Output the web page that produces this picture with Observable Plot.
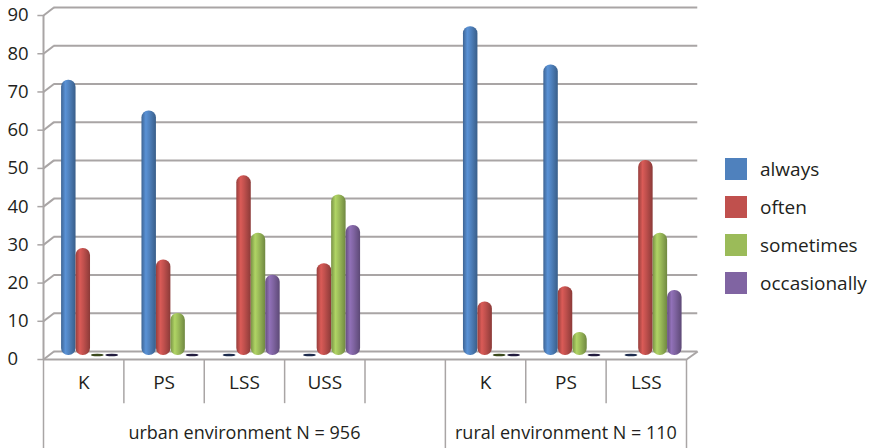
<!DOCTYPE html>
<html>
<head>
<meta charset="utf-8">
<script src="https://cdn.jsdelivr.net/npm/d3@7"></script>
<script src="https://cdn.jsdelivr.net/npm/@observablehq/plot@0.6"></script>
<style>
  body { margin: 0; background: #fff; }
  #wrap { position: relative; width: 875px; height: 448px; font-family: "Open Sans", sans-serif; color: #231f20; }
  #legend { position: absolute; left: 725px; top: 158px; }
  .item { display: flex; align-items: center; height: 38px; font-size: 19px; position: relative; top: -8px; }
  .sw { width: 22px; height: 22px; margin-right: 13px; }
</style>
</head>
<body>
<div id="wrap"><div id="legend"></div></div>
<script>
// ---- data ----
const series = ["always", "often", "sometimes", "occasionally"];
const seriesColors = ["#4f81bd", "#c0504d", "#9bbb59", "#8064a2"];
const urbanCategories = ["K", "PS", "LSS", "USS"];
const ruralCategories = ["K", "PS", "LSS"];
const urbanAlways       = [72, 64, 0, 0];
const urbanOften        = [28, 25, 47, 24];
const urbanSometimes    = [0, 11, 32, 42];
const urbanOccasionally = [0, 0, 21, 34];
const ruralAlways       = [86, 76, 0];
const ruralOften        = [14, 18, 51];
const ruralSometimes    = [0, 6, 32];
const ruralOccasionally = [0, 0, 17];
const groupLabels = ["urban environment N = 956", "rural environment N = 110"];
const yTicks = [0, 10, 20, 30, 40, 50, 60, 70, 80, 90];

// ---- build table ----
const urbanVals = [urbanAlways, urbanOften, urbanSometimes, urbanOccasionally];
const ruralVals = [ruralAlways, ruralOften, ruralSometimes, ruralOccasionally];
const rows = [];
const cats = [];
urbanCategories.forEach((c, i) => {
  cats.push({cat: c, slot: i});
  series.forEach((s, j) => rows.push({slot: i, cat: c, series: s, j, value: urbanVals[j][i]}));
});
ruralCategories.forEach((c, i) => {
  cats.push({cat: c, slot: 5 + i});
  series.forEach((s, j) => rows.push({slot: 5 + i, cat: c, series: s, j, value: ruralVals[j][i]}));
});
const groups = [{label: groupLabels[0], x: 2.5}, {label: groupLabels[1], x: 6.5}];

const barOff = 0.225, barW = 0.18;
const depth = 1.05; // half depth in y units
const gridColor = "#a9a5a5";
const zeroColors = ["#1d2b4d", "#3a1a1a", "#3c4a1e", "#221c3e"];

const marks = [];
// back wall gridlines
marks.push(Plot.ruleY(yTicks, {y: d => d + depth, x1: 0.13, x2: 8.14, stroke: gridColor, strokeWidth: 2}));
// left diagonals
marks.push(Plot.link(yTicks, {x1: 0, y1: d => d - depth, x2: 0.13, y2: d => d + depth, stroke: gridColor, strokeWidth: 2}));
// tiny ticks
marks.push(Plot.ruleY(yTicks, {y: d => d - depth, x1: -0.07, x2: 0, stroke: gridColor, strokeWidth: 1.5}));
// front axis line
marks.push(Plot.ruleX([0], {y1: -depth, y2: 90 - depth, stroke: gridColor, strokeWidth: 2}));
// floor front edge and right diagonal
marks.push(Plot.ruleY([0], {y: d => d - depth, x1: 0, x2: 8, stroke: gridColor, strokeWidth: 2}));
marks.push(Plot.link([0], {x1: 8, y1: -depth, x2: 8.14, y2: depth, stroke: gridColor, strokeWidth: 2}));

// bars
series.forEach((s, j) => {
  const data = rows.filter(r => r.j === j && r.value > 0);
  marks.push(Plot.rectY(data, {
    x1: d => d.slot + barOff + barW * d.j,
    x2: d => d.slot + barOff + barW * (d.j + 1),
    y1: 0, y2: "value",
    fill: `url(#g${j})`, rx: 7
  }));
  const zeros = rows.filter(r => r.j === j && r.value === 0);
  marks.push(Plot.rectY(zeros, {
    x1: d => d.slot + barOff + barW * d.j + 0.01,
    x2: d => d.slot + barOff + barW * (d.j + 1) - 0.01,
    y1: d => d.value - 0.35, y2: d => d.value + 0.35,
    fill: zeroColors[j], rx: 7
  }));
});

// table lines
const shortDiv = [1, 2, 3, 4, 6, 7];
const longDiv = [0, 5, 8];
marks.push(Plot.ruleX(shortDiv, {x: d => d, y1: -depth, y2: -12.6, stroke: gridColor, strokeWidth: 1.5}));
marks.push(Plot.ruleX(longDiv, {x: d => d, y1: -depth, y2: -24.5, stroke: gridColor, strokeWidth: 1.5}));

// labels
marks.push(Plot.text(yTicks, {x: 0, y: d => d - depth, text: d => String(d), textAnchor: "start", dx: -36, fontSize: 18.5, fill: "#231f20"}));
marks.push(Plot.text(cats, {x: d => d.slot + 0.5, y: 0, dy: 27, text: "cat", fontSize: 19, fill: "#231f20"}));
marks.push(Plot.text(groups, {x: "x", y: 0, dy: 78, text: "label", fontSize: 18, fill: "#231f20"}));

const chart = Plot.plot({
  width: 875, height: 448,
  marginLeft: 43, marginRight: 189, marginTop: 11, marginBottom: 93,
  x: {type: "linear", domain: [0, 8], axis: null},
  y: {type: "linear", domain: [0, 90], axis: null},
  style: {fontFamily: "Open Sans, sans-serif", background: "transparent", overflow: "visible"},
  marks
});

// gradient defs for cylinder shading
const shade = (c, k) => d3.color(c).darker(k).formatHex();
const light = (c, k) => d3.color(c).brighter(k).formatHex();
const ns = "http://www.w3.org/2000/svg";
const defs = document.createElementNS(ns, "defs");
seriesColors.forEach((c, j) => {
  const g = document.createElementNS(ns, "linearGradient");
  g.setAttribute("id", `g${j}`);
  g.setAttribute("x1", "0"); g.setAttribute("x2", "1"); g.setAttribute("y1", "0"); g.setAttribute("y2", "0");
  [[0, shade(c, 0.7)], [0.3, light(c, 0.35)], [0.55, c], [1, shade(c, 0.9)]].forEach(([o, col]) => {
    const st = document.createElementNS(ns, "stop");
    st.setAttribute("offset", o); st.setAttribute("stop-color", col);
    g.appendChild(st);
  });
  defs.appendChild(g);
});
chart.insertBefore(defs, chart.firstChild);
document.getElementById("wrap").insertBefore(chart, document.getElementById("legend"));

// legend
const legend = document.getElementById("legend");
series.forEach((s, j) => {
  const item = document.createElement("div");
  item.className = "item";
  item.innerHTML = `<div class="sw" style="background:${seriesColors[j]}"></div><span>${s}</span>`;
  legend.appendChild(item);
});
</script>
</body>
</html>
